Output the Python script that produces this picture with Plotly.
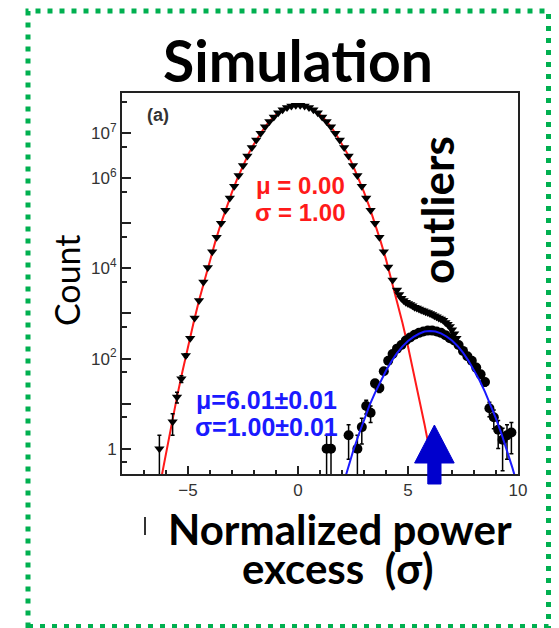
import numpy as np
import plotly.graph_objects as go

# ---------------- data ----------------
# total histogram (triangles), bin centres and log10(count)
total_x = [-6.3, -5.7, -5.5, -5.3, -5.1, -4.9, -4.7, -4.5, -4.3, -4.1, -3.9, -3.7, -3.5,
           -3.3, -3.1, -2.9, -2.7, -2.5, -2.3, -2.1, -1.9, -1.7, -1.5, -1.3, -1.1, -0.9,
           -0.7, -0.5, -0.3, -0.1, 0.1, 0.3, 0.5, 0.7, 0.9, 1.1, 1.3, 1.5, 1.7, 1.9, 2.1,
           2.3, 2.5, 2.7, 2.9, 3.1, 3.3, 3.5, 3.7, 3.9, 4.1, 4.3, 4.5, 4.6, 4.7, 4.8, 4.9,
           5.0, 5.1, 5.2, 5.3, 5.4, 5.5, 5.6, 5.7, 5.8, 5.9, 6.0, 6.1, 6.2, 6.3, 6.4, 6.5,
           6.6, 6.7, 6.8, 6.9, 7.0, 7.1, 7.2]
total_log10 = [0.0, 0.6, 1.15, 1.55, 2.07, 2.45, 2.9, 3.29, 3.70, 4.02, 4.37, 4.69, 5.00,
               5.29, 5.56, 5.82, 6.06, 6.28, 6.49, 6.68, 6.85, 7.00, 7.14, 7.26, 7.36, 7.45,
               7.52, 7.57, 7.60, 7.62, 7.62, 7.60, 7.57, 7.52, 7.45, 7.36, 7.26, 7.14, 7.00,
               6.85, 6.68, 6.49, 6.28, 6.06, 5.82, 5.56, 5.29, 5.00, 4.69, 4.37, 4.03, 3.74,
               3.52, 3.42, 3.34, 3.29, 3.25, 3.22, 3.20, 3.17, 3.14, 3.12, 3.10, 3.08, 3.06,
               3.04, 3.02, 3.00, 2.98, 2.95, 2.93, 2.90, 2.88, 2.85, 2.80, 2.76, 2.71, 2.64,
               2.55, 2.45]

# outlier histogram (circles)
outl_x = [1.3, 1.5, 2.3, 2.7, 2.9, 3.1, 3.3, 3.5, 3.7, 3.9, 4.1, 4.3, 4.5, 4.7, 4.9, 5.1,
          5.3, 5.5, 5.7, 5.9, 6.1, 6.3, 6.5, 6.7, 6.9, 7.1, 7.3, 7.5, 7.7, 7.9, 8.1, 8.3,
          8.5, 8.7, 8.9, 9.1, 9.3, 9.5, 9.7]
outl_log10 = [0.0, 0.0, 0.3, 0.0, 0.48, 0.95, 0.8, 1.45, 1.35, 1.72, 1.95, 2.1, 2.22, 2.3,
              2.4, 2.47, 2.53, 2.57, 2.6, 2.62, 2.62, 2.6, 2.57, 2.52, 2.45, 2.4, 2.3, 2.17,
              2.05, 1.95, 1.8, 1.65, 1.48, 0.9, 0.7, 0.42, 0.2, 0.3, 0.36]

# red gaussian fit (mu = 0.00, sigma = 1.00)
red_x = [-6.25, -6.0, -5.75, -5.5, -5.25, -5.0, -4.75, -4.5, -4.25, -4.0, -3.75, -3.5,
         -3.25, -3.0, -2.75, -2.5, -2.25, -2.0, -1.75, -1.5, -1.25, -1.0, -0.75, -0.5,
         -0.25, 0.0, 0.25, 0.5, 0.75, 1.0, 1.25, 1.5, 1.75, 2.0, 2.25, 2.5, 2.75, 3.0,
         3.25, 3.5, 3.75, 4.0, 4.25, 4.5, 4.75, 5.0, 5.25, 5.5, 5.75, 6.0]
red_log10 = [-0.74, -0.08, 0.545, 1.15, 1.72, 2.27, 2.79, 3.29, 3.75, 4.20, 4.61, 5.00,
             5.36, 5.69, 6.00, 6.28, 6.54, 6.76, 6.96, 7.14, 7.29, 7.41, 7.50, 7.57, 7.61,
             7.62, 7.61, 7.57, 7.50, 7.41, 7.29, 7.14, 6.96, 6.76, 6.54, 6.28, 6.00, 5.69,
             5.36, 5.00, 4.61, 4.20, 3.75, 3.29, 2.79, 2.27, 1.72, 1.15, 0.545, -0.08]

# blue gaussian fit (mu = 6.01, sigma = 1.00)
blue_x = [2.0, 2.25, 2.5, 2.75, 3.0, 3.25, 3.5, 3.75, 4.0, 4.25, 4.5, 4.75, 5.0, 5.25, 5.5,
          5.75, 6.0, 6.25, 6.5, 6.75, 7.0, 7.25, 7.5, 7.75, 8.0, 8.25, 8.5, 8.75, 9.0, 9.25,
          9.5, 9.75, 10.0]
blue_log10 = [-0.88, -0.46, -0.06, 0.30, 0.64, 0.96, 1.24, 1.50, 1.73, 1.94, 2.12, 2.27,
              2.39, 2.48, 2.55, 2.60, 2.61, 2.60, 2.56, 2.49, 2.40, 2.28, 2.13, 1.95, 1.75,
              1.52, 1.26, 0.98, 0.67, 0.33, -0.03, -0.43, -0.85]

outlier_mean = 6.2  # where the blue arrow points

y_tick_vals = [1, 10, 100, 1e3, 1e4, 1e5, 1e6, 1e7]
y_tick_text = ["1", "", "10<sup>2</sup>", "", "10<sup>4</sup>", "", "10<sup>6</sup>", "10<sup>7</sup>"]
y_minor_vals = [0.5, 5, 50, 500, 5e3, 5e4, 5e5, 5e6, 5e7]
x_tick_vals = [-5, 0, 5, 10]

# ---------------- layout geometry ----------------
W_FIG, H_FIG = 559, 628
L, R, T, B = 122, 41, 93, 154
PW, PH = W_FIG - L - R, H_FIG - T - B


def px(x):
    return (x - L) / PW


def py(y):
    return (H_FIG - B - y) / PH


tot_y = np.power(10.0, total_log10)
out_y = np.power(10.0, outl_log10)
tot_err = np.sqrt(tot_y)
out_err = np.sqrt(out_y)

fig = go.Figure()

fig.add_trace(go.Scatter(
    x=red_x, y=np.power(10.0, red_log10), mode="lines",
    line=dict(color="#ff1a1a", width=2), hoverinfo="skip", showlegend=False))

fig.add_trace(go.Scatter(
    x=total_x, y=tot_y, mode="markers",
    marker=dict(symbol="triangle-down", size=9, color="black"),
    error_y=dict(type="data", array=tot_err, arrayminus=np.minimum(tot_err, tot_y),
                 color="black", thickness=1.5, width=2),
    showlegend=False))

fig.add_trace(go.Scatter(
    x=outl_x, y=out_y, mode="markers",
    marker=dict(symbol="circle", size=10, color="black"),
    error_y=dict(type="data", array=out_err, arrayminus=np.minimum(out_err, out_y),
                 color="black", thickness=1.5, width=2),
    showlegend=False))

fig.add_trace(go.Scatter(
    x=blue_x, y=np.power(10.0, blue_log10), mode="lines",
    line=dict(color="#1a1aff", width=2), hoverinfo="skip", showlegend=False))

tick_font = dict(family="Liberation Sans, Arial", size=17, color="#333333")

fig.update_xaxes(
    range=[-8, 10], tickvals=x_tick_vals, ticks="inside", ticklen=8, tickwidth=2,
    tickcolor="#222", showline=True, linewidth=2, linecolor="#222", mirror=True,
    showgrid=False, zeroline=False, tickfont=tick_font,
    minor=dict(dtick=1, tick0=0, ticks="inside", ticklen=4, tickwidth=2,
               tickcolor="#222", showgrid=False))

fig.update_yaxes(
    type="log", range=[-0.56, 7.89], tickvals=y_tick_vals, ticktext=y_tick_text,
    ticks="inside", ticklen=9, tickwidth=2, tickcolor="#222", showline=True,
    linewidth=2, linecolor="#222", mirror=True, showgrid=False, zeroline=False,
    tickfont=tick_font,
    minor=dict(tickvals=y_minor_vals, ticks="inside", ticklen=5, tickwidth=2,
               tickcolor="#222", showgrid=False))

cal = "Lato, Carlito, 'Open Sans', sans-serif"
arial = "Liberation Sans, Arial, sans-serif"


def ann(text, x, y, size, color="black", family=cal, angle=0, bold=False):
    t = f"<b>{text}</b>" if bold else text
    fig.add_annotation(text=t, x=px(x), y=py(y), xref="paper", yref="paper",
                       showarrow=False, xanchor="center", yanchor="middle",
                       textangle=angle, font=dict(family=family, size=size, color=color))


ann("Simulation", 298, 60, 57, bold=True)
ann("Count", 66, 280, 34, angle=-90)
ann("outliers", 437, 210, 44, angle=-90, bold=True)
ann("(a)", 158, 115, 18, color="#333333", family=arial, bold=True)
ann("\u03bc = 0.00", 300, 185, 24, color="#ff1a1a", family=arial, bold=True)
ann("\u03c3 = 1.00", 300, 212, 24, color="#ff1a1a", family=arial, bold=True)
ann("\u03bc=6.01\u00b10.01", 266, 400, 25, color="#1a1aff", family=arial, bold=True)
ann("\u03c3=1.00\u00b10.01", 266, 427, 25, color="#1a1aff", family=arial, bold=True)
ann("Normalized power", 340, 529, 42, bold=True)
ann("excess&nbsp;&nbsp;(\u03c3)", 338, 568, 42, bold=True)

# blue block arrow pointing at the outlier peak
hw, sw = 0.9, 0.3
y_tip, y_base, y_bot = py(425), py(463), py(484)
ax_ = outlier_mean
path = (f"M {ax_ - hw},{y_base} L {ax_},{y_tip} L {ax_ + hw},{y_base} "
        f"L {ax_ + sw},{y_base} L {ax_ + sw},{y_bot} L {ax_ - sw},{y_bot} "
        f"L {ax_ - sw},{y_base} Z")
fig.add_shape(type="path", path=path, xref="x", yref="paper",
              fillcolor="#0000cd", line=dict(color="#0000cd", width=1), layer="above")

# small stray mark left of the axis title
fig.add_shape(type="line", xref="paper", yref="paper", x0=px(145), x1=px(145),
              y0=py(517), y1=py(535), line=dict(color="#333333", width=2))

# green dotted frame
fig.add_shape(type="rect", xref="paper", yref="paper",
              x0=px(28), x1=px(548.5), y0=py(626.5), y1=py(11),
              line=dict(color="#00b050", width=5, dash="5px,7px"))

fig.update_layout(
    width=W_FIG, height=H_FIG, margin=dict(l=L, r=R, t=T, b=B, pad=0),
    paper_bgcolor="white", plot_bgcolor="white", showlegend=False)

fig.write_html("out.html", config={"displayModeBar": False},
               post_script="document.body.style.margin='0';"
               "document.body.style.overflow='hidden';")
